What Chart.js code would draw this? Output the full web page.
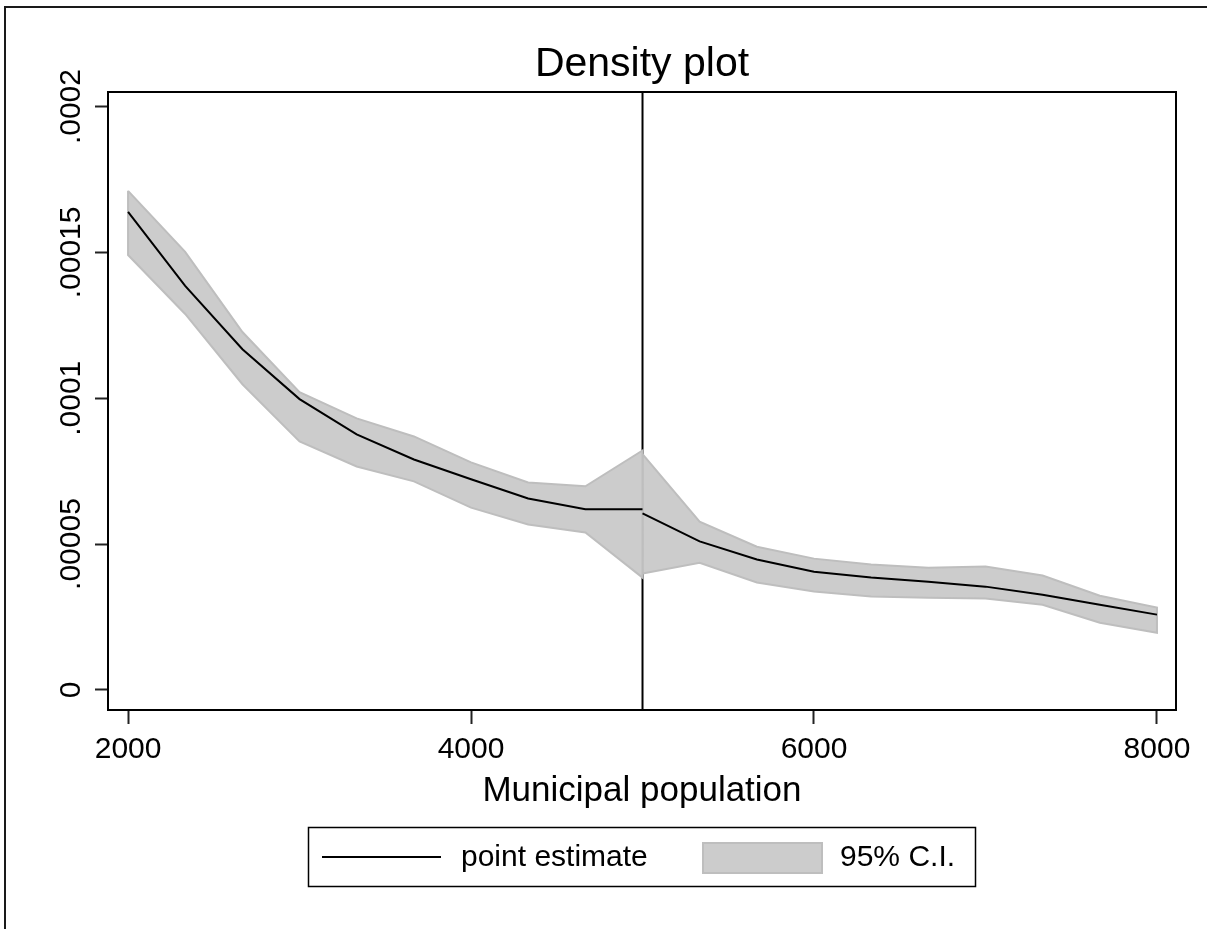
<!DOCTYPE html>
<html>
<head>
<meta charset="utf-8">
<script src="https://cdn.jsdelivr.net/npm/chart.js@4/dist/chart.umd.min.js"></script>
<style>
  body { margin: 0; background: #fff; }
  #wrap { width: 1207px; height: 929px; position: relative; }
</style>
</head>
<body>
<div id="wrap"><canvas id="chart"></canvas></div>
<script>
// municipal population bins, left and right of the 5000 cutoff
const xLeft = [2000, 2333, 2667, 3000, 3333, 3667, 4000, 4333, 4667, 5000];
const xRight = [5000, 5333, 5667, 6000, 6333, 6667, 7000, 7333, 7667, 8000];

const estLeft = [0.0001639, 0.0001385, 0.0001168, 0.0000997, 0.0000876, 0.0000790, 0.0000722, 0.0000656, 0.0000619, 0.0000619];
const estRight = [0.0000605, 0.0000509, 0.0000447, 0.0000405, 0.0000385, 0.0000371, 0.0000354, 0.0000326, 0.0000292, 0.0000258];

const upperLeft = [0.0001711, 0.0001502, 0.0001227, 0.0001021, 0.0000931, 0.0000869, 0.0000780, 0.0000711, 0.0000698, 0.0000821];
const lowerLeft = [0.0001491, 0.0001289, 0.0001048, 0.0000852, 0.0000766, 0.0000715, 0.0000625, 0.0000567, 0.0000540, 0.0000385];
const upperRight = [0.0000808, 0.0000577, 0.0000491, 0.0000450, 0.0000430, 0.0000419, 0.0000423, 0.0000392, 0.0000323, 0.0000282];
const lowerRight = [0.0000399, 0.0000436, 0.0000368, 0.0000337, 0.0000320, 0.0000316, 0.0000313, 0.0000292, 0.0000230, 0.0000196];

const cutoff = 5000;
const xTicks = [2000, 4000, 6000, 8000];
const yTicks = [0, 0.00005, 0.0001, 0.00015, 0.0002];
const yTickLabels = ['0', '.00005', '.0001', '.00015', '.0002'];

const FONT = "'Liberation Sans', Arial, sans-serif";

const pts = (xs, ys) => xs.map((x, i) => ({ x, y: ys[i] }));

// closed outline: upper edge forward, lower edge back
function band(xs, up, lo) {
    const p = pts(xs, up).concat(pts(xs, lo).reverse());
    p.push(p[0]);
    return p;
}

const cutoffLine = {
    id: 'cutoffLine',
    beforeDatasetsDraw(chart) {
        const { ctx, chartArea } = chart;
        const x = chart.scales.x.getPixelForValue(cutoff);
        ctx.save();
        ctx.strokeStyle = '#000';
        ctx.lineWidth = 2;
        ctx.beginPath();
        ctx.moveTo(x, chartArea.top);
        ctx.lineTo(x, chartArea.bottom);
        ctx.stroke();
        ctx.restore();
    }
};

const frame = {
    id: 'frame',
    afterDraw(chart) {
        const { ctx, chartArea } = chart;
        const ys = chart.scales.y;
        ctx.save();
        // plot box
        ctx.strokeStyle = '#000';
        ctx.lineWidth = 2;
        ctx.strokeRect(chartArea.left, chartArea.top, chartArea.right - chartArea.left, chartArea.bottom - chartArea.top);

        // outer graph border
        ctx.strokeStyle = '#1a1a1a';
        ctx.beginPath();
        ctx.moveTo(5, 940);
        ctx.lineTo(5, 7);
        ctx.lineTo(1220, 7);
        ctx.stroke();

        // rotated y tick labels
        ctx.fillStyle = '#000';
        ctx.font = '30px ' + FONT;
        ctx.textAlign = 'center';
        ctx.textBaseline = 'middle';
        ys.ticks.forEach((t, i) => {
            ctx.save();
            ctx.translate(72, ys.getPixelForValue(t.value));
            ctx.rotate(-Math.PI / 2);
            ctx.fillText(yTickLabels[i], 0, 0);
            ctx.restore();
        });

        // legend
        ctx.lineWidth = 1.5;
        ctx.strokeStyle = '#000';
        ctx.strokeRect(308.5, 827.5, 667, 59);
        ctx.lineWidth = 2;
        ctx.beginPath();
        ctx.moveTo(322, 857);
        ctx.lineTo(441, 857);
        ctx.stroke();
        ctx.fillStyle = 'rgb(204,204,204)';
        ctx.strokeStyle = 'rgb(190,190,190)';
        ctx.fillRect(703, 843, 119, 30);
        ctx.strokeRect(703, 843, 119, 30);
        ctx.fillStyle = '#000';
        ctx.textAlign = 'left';
        ctx.fillText('point estimate', 461, 858);
        ctx.fillText('95% C.I.', 840, 858);
        ctx.restore();
    }
};

onload = () => {
    const lineStyle = { borderColor: '#000', borderWidth: 2, pointRadius: 0, tension: 0, fill: false };
    const bandStyle = {
        borderColor: 'rgb(190,190,190)', borderWidth: 2,
        backgroundColor: 'rgb(204,204,204)', pointRadius: 0, tension: 0, fill: 'shape'
    };

    new Chart(document.getElementById('chart'), {
        type: 'line',
        data: {
            datasets: [
                { label: 'point estimate', data: pts(xLeft, estLeft), ...lineStyle },
                { label: 'point estimate', data: pts(xRight, estRight), ...lineStyle },
                { label: '95% C.I.', data: band(xLeft, upperLeft, lowerLeft), ...bandStyle },
                { label: '95% C.I.', data: band(xRight, upperRight, lowerRight), ...bandStyle }
            ]
        },
        options: {
            responsive: true,
            maintainAspectRatio: false,
            animation: false,
            // y axis gets zero width so the title centres over the plot box
            layout: { padding: { left: 108, right: 31, top: 0, bottom: 109 } },
            plugins: {
                legend: { display: false },
                tooltip: { enabled: false },
                title: {
                    display: true,
                    text: 'Density plot',
                    color: '#000',
                    font: { family: FONT, size: 41, weight: 'normal', lineHeight: 1 },
                    padding: { top: 44, bottom: 7 }
                }
            },
            scales: {
                x: {
                    type: 'linear',
                    min: 1883,
                    max: 8111,
                    afterBuildTicks: s => { s.ticks = xTicks.map(v => ({ value: v })); },
                    afterFit: s => { s.height = 110; },
                    border: { display: false },
                    grid: { drawOnChartArea: false, tickLength: 14, tickColor: '#222', tickWidth: 2 },
                    ticks: {
                        color: '#000', padding: 8, maxRotation: 0, autoSkip: false,
                        font: { family: FONT, size: 30 },
                        callback: v => String(v)
                    },
                    title: {
                        display: true,
                        text: 'Municipal population',
                        color: '#000',
                        font: { family: FONT, size: 35 },
                        padding: { top: 0, bottom: 8 }
                    }
                },
                y: {
                    min: -0.0000069,
                    max: 0.000205,
                    afterBuildTicks: s => { s.ticks = yTicks.map(v => ({ value: v })); },
                    afterFit: s => { s.width = 0; },
                    border: { display: false },
                    grid: { drawOnChartArea: false, tickLength: 13, tickColor: '#222', tickWidth: 2 },
                    ticks: { display: false }
                }
            }
        },
        plugins: [cutoffLine, frame]
    });
};
</script>
</body>
</html>
